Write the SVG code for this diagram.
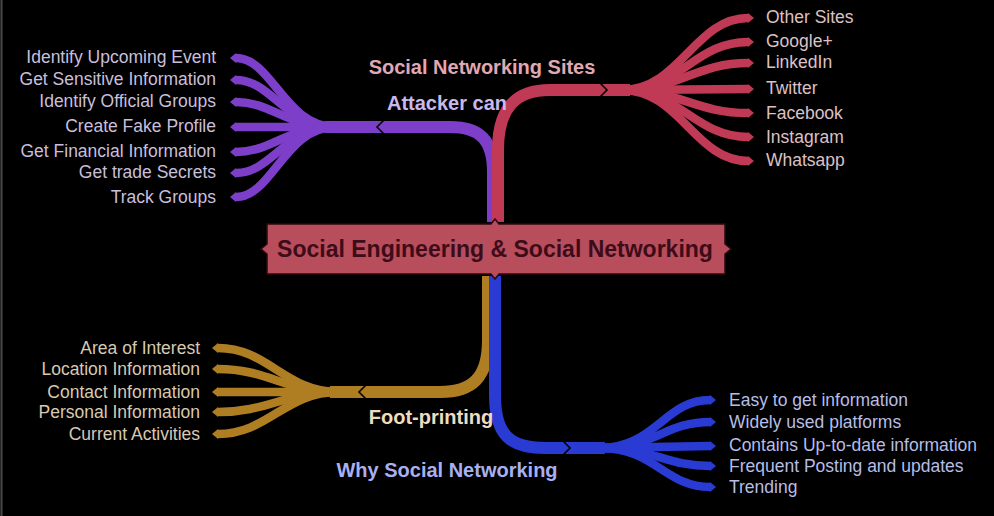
<svg xmlns="http://www.w3.org/2000/svg" width="994" height="516" viewBox="0 0 994 516">
<defs>
<style>
.bg{fill:#000}
.trunk{fill:none;stroke-width:12;stroke-linecap:butt}
.leaf{fill:none;stroke-width:8.5;stroke-linecap:butt}
.chev{fill:none;stroke:#000;stroke-width:1.6}
.p{stroke:#7d3fc9}
.r{stroke:#c13a55}
.g{stroke:#b07e22}
.b{stroke:#2a3bd4}
.t{font-family:"Liberation Sans",Arial,sans-serif;font-size:17.5px}
.lb{font-family:"Liberation Sans",Arial,sans-serif;font-size:20px;font-weight:bold}
.tp{fill:#c9bfdc}
.tr{fill:#dcc0c6}
.tg{fill:#d8c9b0}
.tb{fill:#b7bde6}
</style>
<marker id="mp" viewBox="0 -5 6 10" refX="0" refY="0" markerWidth="6" markerHeight="10" markerUnits="userSpaceOnUse" orient="auto"><path d="M0,-5 L6,0 L0,5 Z" fill="#7d3fc9"/></marker>
<marker id="mr" viewBox="0 -5 6 10" refX="0" refY="0" markerWidth="6" markerHeight="10" markerUnits="userSpaceOnUse" orient="auto"><path d="M0,-5 L6,0 L0,5 Z" fill="#c13a55"/></marker>
<marker id="mg" viewBox="0 -5 6 10" refX="0" refY="0" markerWidth="6" markerHeight="10" markerUnits="userSpaceOnUse" orient="auto"><path d="M0,-5 L6,0 L0,5 Z" fill="#b07e22"/></marker>
<marker id="mb" viewBox="0 -5 6 10" refX="0" refY="0" markerWidth="6" markerHeight="10" markerUnits="userSpaceOnUse" orient="auto"><path d="M0,-5 L6,0 L0,5 Z" fill="#2a3bd4"/></marker>
</defs>
<rect class="bg" x="0" y="0" width="994" height="516"/>
<line x1="1.5" y1="0" x2="1.5" y2="516" stroke="#4a4a4a" stroke-width="2"/>

<g id="connectors">
  <!-- trunks -->
  <path class="trunk p" d="M493,222 L493,172 C493,140 480,127 450,127 L325,127"/>
  <path class="trunk r" d="M498,222 L498,150 C498,108 515,90 550,90 L630,90"/>
  <path class="trunk g" d="M488,276 L488,340 C488,378 472,392 440,392 L330,392"/>
  <path class="trunk b" d="M495,276 L495,395 C495,435 510,448 545,448 L605,448"/>
  <!-- chevrons -->
  <polyline class="chev" points="384,120 377,127 384,134"/>
  <polyline class="chev" points="600,83 607,90 600,97"/>
  <polyline class="chev" points="366,385 359,392 366,399"/>
  <polyline class="chev" points="563,441 570,448 563,455"/>
  <!-- purple leaves -->
  <g marker-end="url(#mp)">
    <path class="leaf p" d="M335,127 C285,127 272,58 236,58"/>
    <path class="leaf p" d="M335,127 C285,127 272,80 236,80"/>
    <path class="leaf p" d="M335,127 C285,127 272,102 236,102"/>
    <path class="leaf p" d="M335,127 L236,127"/>
    <path class="leaf p" d="M335,127 C285,127 272,152 236,152"/>
    <path class="leaf p" d="M335,127 C285,127 272,173 236,173"/>
    <path class="leaf p" d="M335,127 C285,127 272,197 236,197"/>
  </g>
  <!-- red leaves -->
  <g marker-end="url(#mr)">
    <path class="leaf r" d="M622,90 C680,90 695,18 748,18"/>
    <path class="leaf r" d="M622,90 C680,90 695,42 748,42"/>
    <path class="leaf r" d="M622,90 C680,90 695,63 748,63"/>
    <path class="leaf r" d="M622,90 L748,89"/>
    <path class="leaf r" d="M622,90 C680,90 695,113 748,113"/>
    <path class="leaf r" d="M622,90 C680,90 695,137 748,137"/>
    <path class="leaf r" d="M622,90 C680,90 695,161 748,161"/>
  </g>
  <!-- gold leaves -->
  <g marker-end="url(#mg)">
    <path class="leaf g" d="M338,392 C285,392 268,348 218,348"/>
    <path class="leaf g" d="M338,392 C285,392 268,369 218,369"/>
    <path class="leaf g" d="M338,392 L218,392"/>
    <path class="leaf g" d="M338,392 C285,392 268,412 218,412"/>
    <path class="leaf g" d="M338,392 C285,392 268,434 218,434"/>
  </g>
  <!-- blue leaves -->
  <g marker-end="url(#mb)">
    <path class="leaf b" d="M600,448 C655,448 665,400 710,400"/>
    <path class="leaf b" d="M600,448 C655,448 665,422 710,422"/>
    <path class="leaf b" d="M600,448 L710,446"/>
    <path class="leaf b" d="M600,448 C655,448 665,466 710,466"/>
    <path class="leaf b" d="M600,448 C655,448 665,487 710,487"/>
  </g>
</g>

<g id="center">
  <path d="M267,224 L491,224 L495,219 L499,224 L725,224 L725,244 L731,249 L725,254 L725,274 L499,274 L495,279 L491,274 L267,274 L267,254 L261,249 L267,244 Z" fill="#b84d5c" stroke="#2a0a10" stroke-width="1.5"/>
  <text x="495" y="257" text-anchor="middle" font-family="'Liberation Sans',Arial,sans-serif" font-size="23" font-weight="bold" fill="#3d0c18">Social Engineering &amp; Social Networking</text>
</g>

<g id="label-sites"><text class="lb" x="482" y="74" text-anchor="middle" fill="#e0a8b2">Social Networking Sites</text></g>
<g id="label-attacker"><text class="lb" x="447" y="110" text-anchor="middle" fill="#c9b8ec">Attacker can</text></g>
<g id="label-foot"><text class="lb" x="431" y="424" text-anchor="middle" fill="#eedcc0">Foot-printing</text></g>
<g id="label-why"><text class="lb" x="447" y="477" text-anchor="middle" fill="#a8b0f0">Why Social Networking</text></g>

<g id="attacker-leaves" class="t tp" text-anchor="end">
  <g id="n-upcoming"><text x="216" y="63">Identify Upcoming Event</text></g>
  <g id="n-sensitive"><text x="216" y="85">Get Sensitive Information</text></g>
  <g id="n-official"><text x="216" y="107">Identify Official Groups</text></g>
  <g id="n-fake"><text x="216" y="132">Create Fake Profile</text></g>
  <g id="n-financial"><text x="216" y="157">Get Financial Information</text></g>
  <g id="n-trade"><text x="216" y="178">Get trade Secrets</text></g>
  <g id="n-track"><text x="216" y="203">Track Groups</text></g>
</g>

<g id="sites-leaves" class="t tr">
  <g id="n-other"><text x="766" y="23">Other Sites</text></g>
  <g id="n-google"><text x="766" y="47">Google+</text></g>
  <g id="n-linkedin"><text x="766" y="68">LinkedIn</text></g>
  <g id="n-twitter"><text x="766" y="94">Twitter</text></g>
  <g id="n-facebook"><text x="766" y="119">Facebook</text></g>
  <g id="n-instagram"><text x="766" y="143">Instagram</text></g>
  <g id="n-whatsapp"><text x="766" y="166">Whatsapp</text></g>
</g>

<g id="foot-leaves" class="t tg" text-anchor="end">
  <g id="n-interest"><text x="200" y="354">Area of Interest</text></g>
  <g id="n-location"><text x="200" y="375">Location Information</text></g>
  <g id="n-contact"><text x="200" y="398">Contact Information</text></g>
  <g id="n-personal"><text x="200" y="418">Personal Information</text></g>
  <g id="n-current"><text x="200" y="440">Current Activities</text></g>
</g>

<g id="why-leaves" class="t tb">
  <g id="n-easy"><text x="729" y="406">Easy to get information</text></g>
  <g id="n-widely"><text x="729" y="428">Widely used platforms</text></g>
  <g id="n-uptodate"><text x="729" y="451">Contains Up-to-date information</text></g>
  <g id="n-frequent"><text x="729" y="472">Frequent Posting and updates</text></g>
  <g id="n-trending"><text x="729" y="493">Trending</text></g>
</g>
</svg>
